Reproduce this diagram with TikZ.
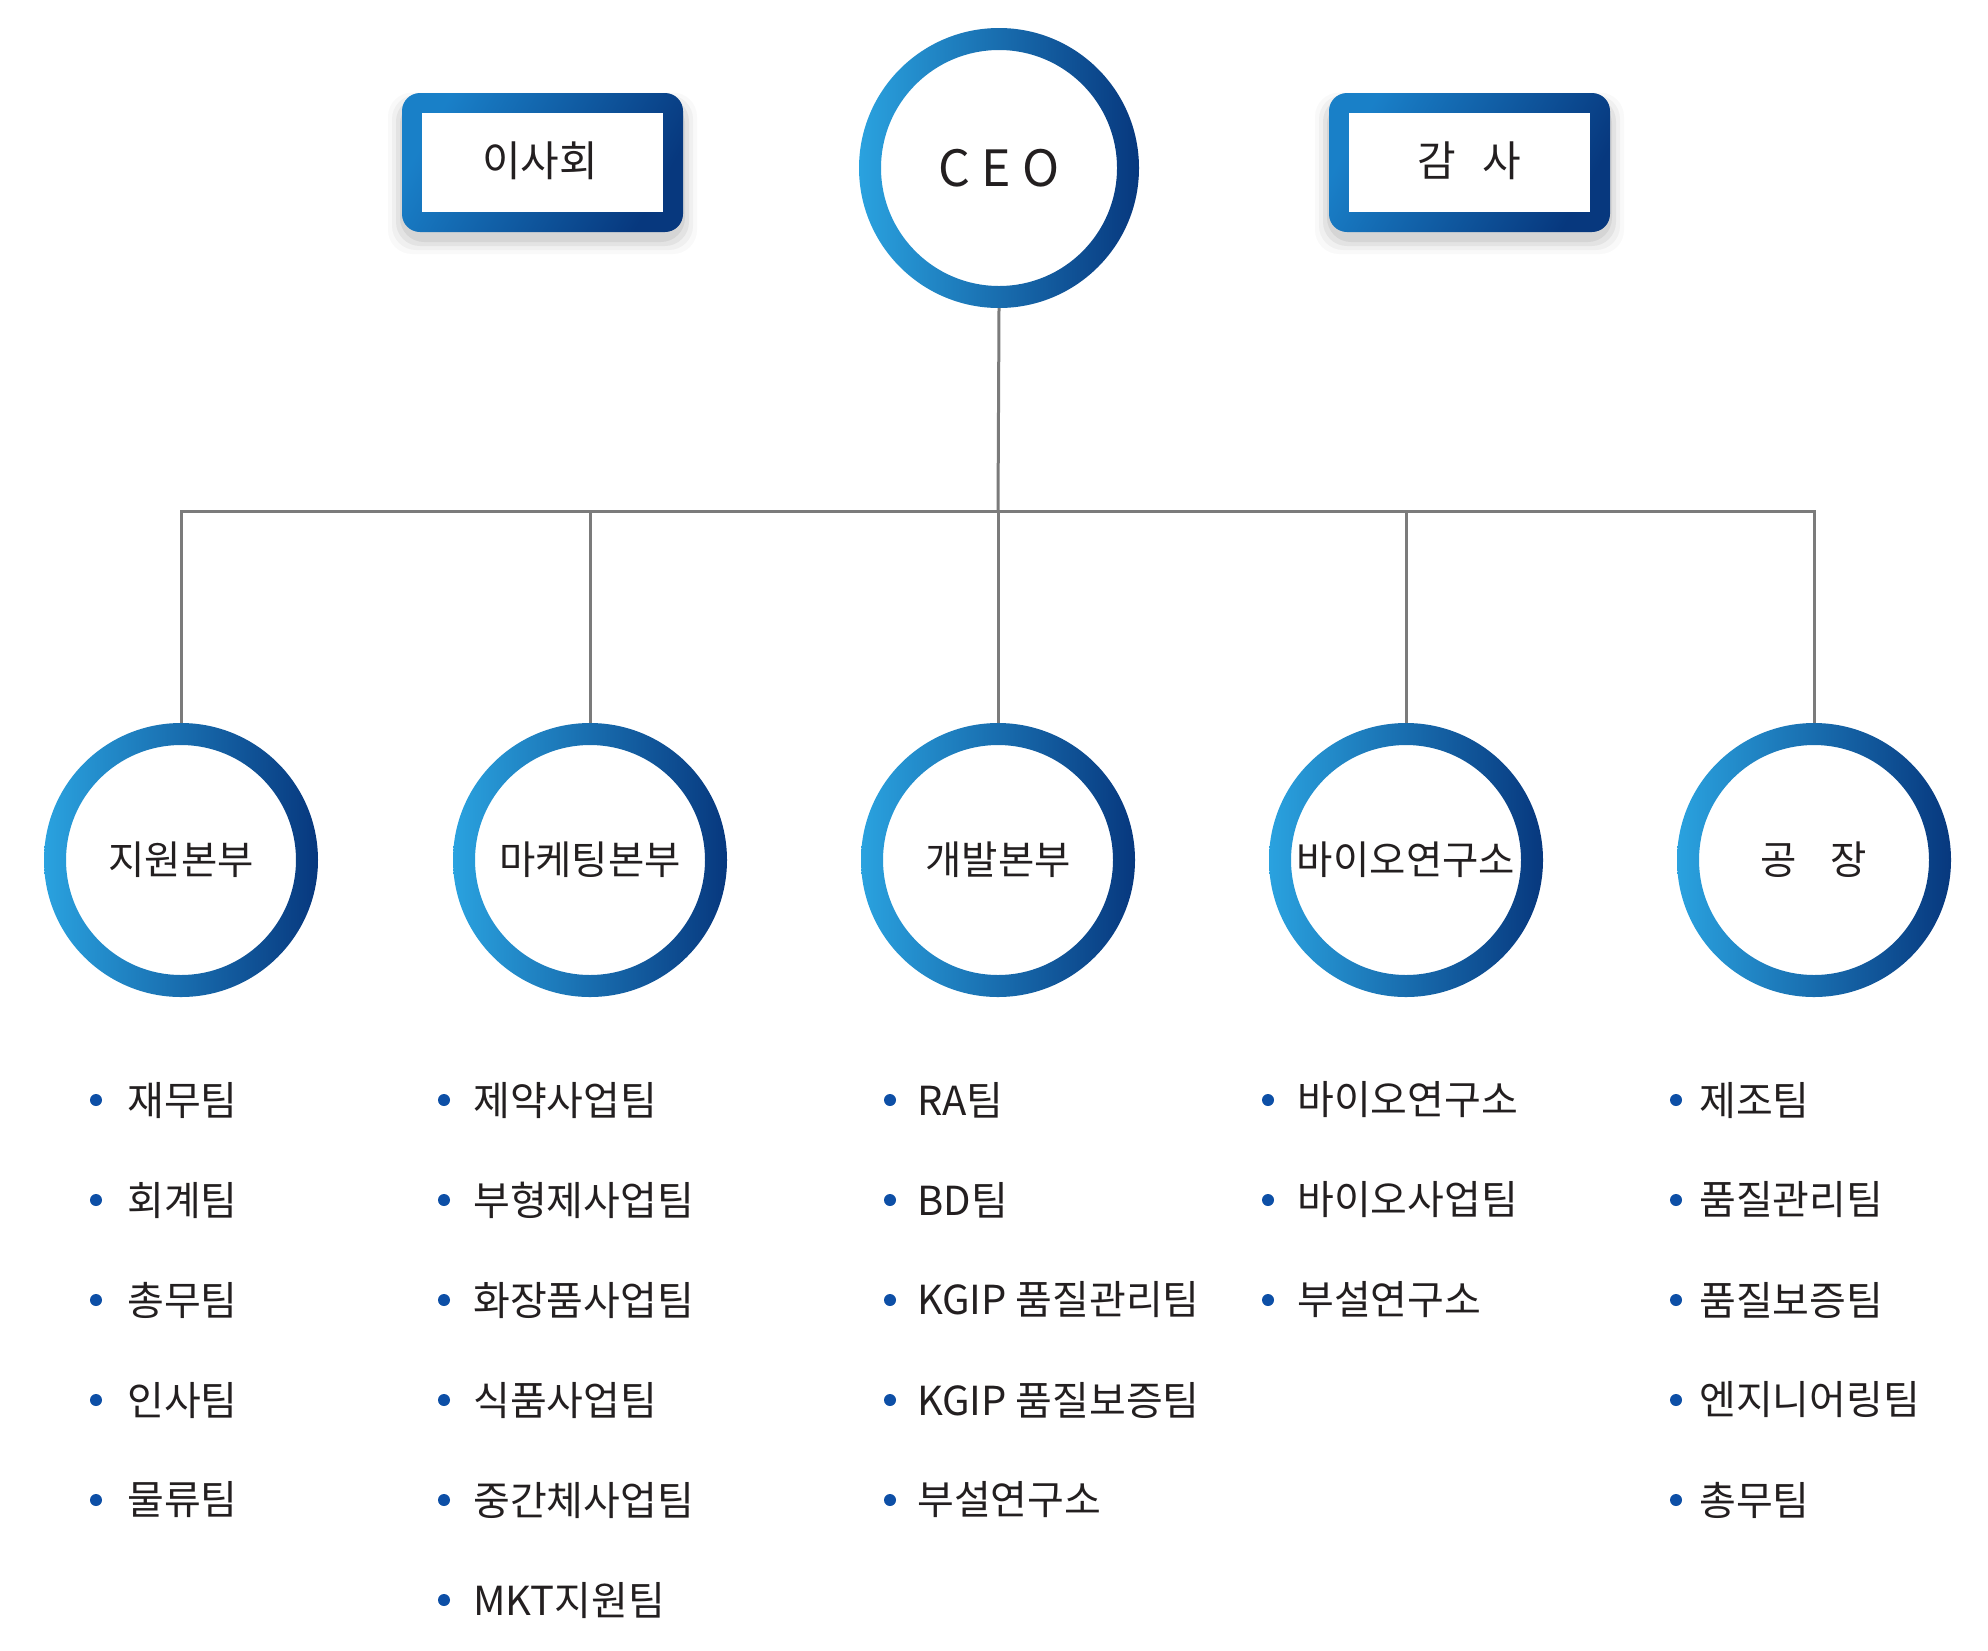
\documentclass[tikz,border=0pt]{standalone}
\usepackage{fontspec}
\setmainfont{Noto Sans CJK KR}
\definecolor{ltblue}{HTML}{2AA2DF}
\definecolor{mdblue}{HTML}{0C64B6}
\definecolor{dkblue}{HTML}{07387E}
\definecolor{txt}{HTML}{231F20}
\definecolor{dotc}{HTML}{0D4FA6}
\definecolor{conn}{HTML}{7B7B7B}
\begin{document}
\begin{tikzpicture}[x=1pt,y=-1pt,
  ringshade/.style={left color=ltblue, middle color=mdblue, right color=dkblue, even odd rule},
  boxshade/.style={left color=ltblue!45!mdblue, middle color=mdblue!90!dkblue, right color=dkblue, shading angle=60},
  divnode/.style={circle, minimum size=274pt, inner sep=0pt, text=txt, font=\fontsize{39.5pt}{46pt}\selectfont},
  boxlabel/.style={inner sep=0pt, text=txt, font=\fontsize{42pt}{48pt}\selectfont},
  item/.style={anchor=west, inner sep=0pt, text=txt, font=\fontsize{40pt}{46pt}\selectfont},
  bul/.style={circle, fill=dotc, minimum size=12pt, inner sep=0pt},
  conline/.style={draw=conn, line width=3pt}]
\fill[white] (0,0) rectangle (1988,1650);
\useasboundingbox (0,0) rectangle (1988,1650);

% box shadows
\foreach \s/\o in {14/0.025,10/0.035,6/0.05,2/0.06}{
  \fill[black, opacity=\o, rounded corners=24pt] (402-\s,101-\s*0.6) rectangle (683+\s,240+\s);
  \fill[black, opacity=\o, rounded corners=24pt] (1329-\s,101-\s*0.6) rectangle (1610+\s,240+\s);
}

% boxes
\shade[boxshade, rounded corners=18pt] (402,93) rectangle (683,232);
\fill[white] (422,113) rectangle (663,212);
\node[boxlabel] (board) at (540,161) {이사회};

\shade[boxshade, rounded corners=18pt] (1329,93) rectangle (1610,232);
\fill[white] (1349,113) rectangle (1590,212);
\node[boxlabel] (audit) at (1469.5,161) {감\hspace{0.62em}사};

% CEO
\shade[ringshade] (999,168) circle (140pt) circle (118pt);
\node[circle, minimum size=280pt, inner sep=0pt, text=txt, font=\fontsize{50pt}{58pt}\selectfont] (ceo) at (999,168) {C E O};

% divisions
\foreach \x/\n/\t in {181/d1/지원본부, 590/d2/마케팅본부, 998/d3/개발본부, 1406/d4/바이오연구소, 1814/d5/공\hspace{0.85em}장}{
  \shade[ringshade] (\x,860) circle (137pt) circle (115pt);
  \node[divnode] (\n) at (\x,860) {\t};
}

% connectors
\coordinate (bus) at (998,511);
\draw[conline] (ceo.south) -- (bus);
\draw[conline] (d1.north) -- (d1.north |- bus) -- (d5.north |- bus) -- (d5.north);
\foreach \n in {d2,d3,d4}{
  \draw[conline] (\n.north) -- (\n.north |- bus);
}

% lists
\foreach \t [count=\i] in {재무팀,회계팀,총무팀,인사팀,물류팀}{
  \node[bul] (ba\i) at (96,{1000+100*\i}) {};
  \node[item] (ta\i) at (127,{1000+100*\i}) {\t};
}
\foreach \t [count=\i] in {제약사업팀,부형제사업팀,화장품사업팀,식품사업팀,중간체사업팀,MKT지원팀}{
  \node[bul] (bb\i) at (444,{1000+100*\i}) {};
  \node[item] (tb\i) at (473,{1000+100*\i}) {\t};
}
\foreach \t [count=\i] in {RA팀,BD팀,KGIP 품질관리팀,KGIP 품질보증팀,부설연구소}{
  \node[bul] (bc\i) at (890,{1000+100*\i}) {};
  \node[item] (tc\i) at (917,{1000+100*\i}) {\t};
}
\foreach \t [count=\i] in {바이오연구소,바이오사업팀,부설연구소}{
  \node[bul] (bd\i) at (1268,{1000+100*\i}) {};
  \node[item] (td\i) at (1297,{1000+100*\i}) {\t};
}
\foreach \t [count=\i] in {제조팀,품질관리팀,품질보증팀,엔지니어링팀,총무팀}{
  \node[bul] (be\i) at (1676,{1000+100*\i}) {};
  \node[item] (te\i) at (1699,{1000+100*\i}) {\t};
}
\end{tikzpicture}
\end{document}
